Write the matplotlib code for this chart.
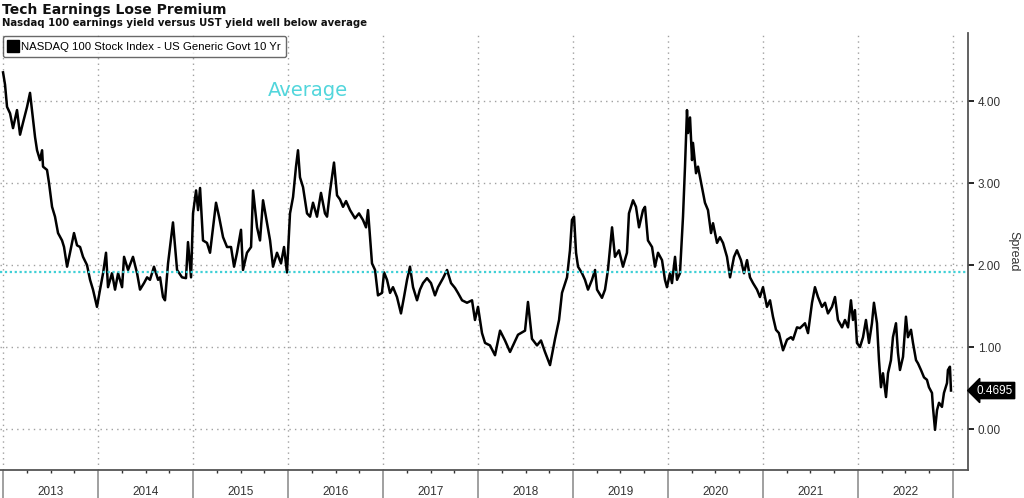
import matplotlib
matplotlib.use("Agg")
import matplotlib.pyplot as plt
import matplotlib.transforms as mtransforms
from matplotlib.lines import Line2D
import numpy as np

# decimal years, spread values
years = [
    2013.000, 2013.021, 2013.042, 2013.074, 2013.105, 2013.147, 2013.179, 2013.211, 2013.253, 2013.284,
    2013.305, 2013.337, 2013.358, 2013.389, 2013.411, 2013.421, 2013.463, 2013.484, 2013.516, 2013.547,
    2013.579, 2013.621, 2013.642, 2013.674, 2013.705, 2013.747, 2013.779, 2013.811, 2013.842, 2013.884,
    2013.916, 2013.947, 2013.989, 2014.021, 2014.053, 2014.084, 2014.105, 2014.147, 2014.179, 2014.211,
    2014.253, 2014.274, 2014.316, 2014.368, 2014.411, 2014.442, 2014.484, 2014.516, 2014.547, 2014.589,
    2014.632, 2014.653, 2014.684, 2014.705, 2014.737, 2014.789, 2014.832, 2014.884, 2014.926, 2014.947,
    2014.979, 2015.000, 2015.032, 2015.053, 2015.074, 2015.105, 2015.147, 2015.179, 2015.211, 2015.242,
    2015.274, 2015.316, 2015.358, 2015.400, 2015.432, 2015.463, 2015.505, 2015.526, 2015.568, 2015.611,
    2015.632, 2015.674, 2015.705, 2015.737, 2015.779, 2015.811, 2015.842, 2015.884, 2015.926, 2015.958,
    2015.989, 2016.021, 2016.053, 2016.084, 2016.105, 2016.126, 2016.158, 2016.200, 2016.232, 2016.263,
    2016.305, 2016.347, 2016.389, 2016.411, 2016.442, 2016.484, 2016.516, 2016.547, 2016.579, 2016.611,
    2016.653, 2016.705, 2016.747, 2016.789, 2016.821, 2016.842, 2016.863, 2016.884, 2016.916, 2016.947,
    2016.989, 2017.011, 2017.042, 2017.074, 2017.105, 2017.147, 2017.189, 2017.221, 2017.253, 2017.284,
    2017.316, 2017.358, 2017.389, 2017.421, 2017.463, 2017.505, 2017.547, 2017.579, 2017.632, 2017.674,
    2017.716, 2017.758, 2017.789, 2017.832, 2017.884, 2017.937, 2017.968, 2018.000, 2018.042, 2018.074,
    2018.126, 2018.179, 2018.232, 2018.284, 2018.337, 2018.421, 2018.495, 2018.526, 2018.568, 2018.621,
    2018.663, 2018.705, 2018.758, 2018.811, 2018.853, 2018.884, 2018.937, 2018.968, 2018.989, 2019.011,
    2019.032, 2019.053, 2019.095, 2019.126, 2019.158, 2019.200, 2019.232, 2019.253, 2019.305, 2019.337,
    2019.368, 2019.411, 2019.442, 2019.484, 2019.526, 2019.568, 2019.589, 2019.632, 2019.663, 2019.695,
    2019.737, 2019.758, 2019.789, 2019.832, 2019.863, 2019.895, 2019.937, 2019.968, 2019.989, 2020.021,
    2020.042, 2020.074, 2020.095, 2020.126, 2020.158, 2020.179, 2020.200, 2020.211, 2020.232, 2020.253,
    2020.263, 2020.295, 2020.316, 2020.358, 2020.389, 2020.421, 2020.453, 2020.474, 2020.516, 2020.547,
    2020.579, 2020.621, 2020.653, 2020.695, 2020.726, 2020.768, 2020.800, 2020.832, 2020.863, 2020.895,
    2020.937, 2020.968, 2021.000, 2021.042, 2021.074, 2021.105, 2021.137, 2021.168, 2021.211, 2021.253,
    2021.295, 2021.316, 2021.358, 2021.389, 2021.442, 2021.474, 2021.516, 2021.547, 2021.579, 2021.621,
    2021.653, 2021.684, 2021.726, 2021.758, 2021.789, 2021.832, 2021.863, 2021.895, 2021.926, 2021.947,
    2021.968, 2021.989, 2022.021, 2022.053, 2022.084, 2022.116, 2022.147, 2022.168, 2022.200, 2022.221,
    2022.242, 2022.263, 2022.295, 2022.316, 2022.347, 2022.368, 2022.400, 2022.421, 2022.442, 2022.474,
    2022.505, 2022.526, 2022.558, 2022.579, 2022.611, 2022.632, 2022.663, 2022.695, 2022.726, 2022.747,
    2022.779, 2022.789, 2022.811, 2022.832, 2022.853, 2022.884, 2022.905, 2022.937, 2022.947, 2022.968,
    2022.979,
]
spread = [
    4.35, 4.20, 3.93, 3.85, 3.67, 3.89, 3.59, 3.74, 3.93, 4.10,
    3.89, 3.56, 3.40, 3.28, 3.40, 3.20, 3.16, 3.00, 2.71, 2.59,
    2.39, 2.30, 2.22, 1.98, 2.15, 2.39, 2.24, 2.22, 2.10, 2.00,
    1.82, 1.70, 1.49, 1.70, 1.90, 2.15, 1.73, 1.90, 1.70, 1.90,
    1.73, 2.10, 1.94, 2.10, 1.90, 1.70, 1.78, 1.85, 1.82, 1.98,
    1.82, 1.85, 1.61, 1.57, 2.02, 2.52, 1.94, 1.85, 1.84, 2.28,
    1.85, 2.63, 2.91, 2.67, 2.94, 2.30, 2.27, 2.15, 2.46, 2.76,
    2.59, 2.34, 2.22, 2.22, 1.98, 2.15, 2.43, 1.94, 2.15, 2.22,
    2.91, 2.46, 2.30, 2.79, 2.51, 2.30, 1.98, 2.15, 2.02, 2.22,
    1.91, 2.63, 2.83, 3.20, 3.40, 3.07, 2.95, 2.63, 2.59, 2.76,
    2.59, 2.88, 2.63, 2.59, 2.90, 3.25, 2.85, 2.80, 2.71, 2.78,
    2.67, 2.57, 2.63, 2.55, 2.46, 2.67, 2.34, 2.02, 1.94, 1.63,
    1.66, 1.91, 1.82, 1.66, 1.73, 1.61, 1.41, 1.61, 1.82, 1.98,
    1.73, 1.57, 1.70, 1.78, 1.84, 1.78, 1.63, 1.73, 1.84, 1.94,
    1.78, 1.72, 1.66, 1.57, 1.54, 1.57, 1.33, 1.49, 1.17, 1.05,
    1.02, 0.90, 1.20, 1.08, 0.94, 1.15, 1.20, 1.55, 1.10, 1.02,
    1.08, 0.94, 0.78, 1.10, 1.33, 1.66, 1.85, 2.18, 2.55, 2.59,
    2.15, 1.98, 1.90, 1.82, 1.70, 1.82, 1.94, 1.70, 1.60, 1.70,
    1.94, 2.46, 2.10, 2.18, 1.98, 2.15, 2.63, 2.79, 2.71, 2.46,
    2.67, 2.71, 2.30, 2.22, 1.98, 2.15, 2.06, 1.82, 1.73, 1.90,
    1.78, 2.10, 1.82, 1.90, 2.59, 3.20, 3.89, 3.61, 3.80, 3.28,
    3.49, 3.12, 3.20, 2.95, 2.76, 2.67, 2.39, 2.51, 2.27, 2.34,
    2.27, 2.10, 1.85, 2.10, 2.18, 2.06, 1.90, 2.06, 1.85, 1.78,
    1.70, 1.61, 1.73, 1.49, 1.57, 1.37, 1.21, 1.17, 0.96, 1.09,
    1.12, 1.09, 1.24, 1.23, 1.29, 1.17, 1.54, 1.73, 1.61, 1.49,
    1.54, 1.41, 1.49, 1.61, 1.33, 1.24, 1.33, 1.24, 1.57, 1.33,
    1.45, 1.05, 1.00, 1.12, 1.33, 1.05, 1.29, 1.54, 1.29, 0.84,
    0.51, 0.68, 0.39, 0.68, 0.84, 1.12, 1.29, 0.93, 0.72, 0.88,
    1.37, 1.12, 1.21, 1.05, 0.84, 0.80, 0.72, 0.63, 0.60, 0.51,
    0.44, 0.27, -0.01, 0.23, 0.32, 0.27, 0.44, 0.56, 0.72, 0.76,
    0.4695,
]
year_labels = [str(y) for y in range(2013, 2023)]
average = 1.91
last_value = 0.4695
series_name = "NASDAQ 100 Stock Index - US Generic Govt 10 Yr"

small_font = ["Liberation Sans", "DejaVu Sans"]

fig = plt.figure(figsize=(10.24, 4.98), dpi=100)
ax = fig.add_axes([0.0, 0.0562, 0.9453, 0.8775])

ax.plot(years, spread, color="black", lw=1.8, solid_joinstyle="round")
ax.axhline(average, color="#3fd0d6", lw=1.6, ls=(0, (1, 1.2)))
ax.text(2015.79, 4.13, "Average", color="#52d6dc", fontsize=14, va="center", ha="left")

ax.set_xlim(2012.968, 2023.158)
ax.set_ylim(-0.5, 4.83)

# grid
ax.set_yticks([0, 1, 2, 3, 4])
ax.set_xticks(np.arange(2013, 2024))
ax.set_xticks(np.arange(2013, 2023.2, 0.25), minor=True)
ax.grid(True, which="major", color="#a0a0a0", ls=(0, (1, 3)), lw=1.0)

ax.yaxis.tick_right()
ax.set_yticklabels(["%.2f" % v for v in [0, 1, 2, 3, 4]], fontsize=8.5, color="#333333",
                   family=small_font)
ax.tick_params(axis="y", direction="out", length=4, width=1.2, color="black", pad=3)
ax.set_ylabel("Spread", rotation=270, fontsize=9, color="#333333", family=small_font,
              va="center")
ax.yaxis.set_label_coords(1.047, 0.5)

ax.set_xticklabels([])
ax.tick_params(axis="x", which="major", direction="out", length=21, width=1.2, color="#909090")
ax.tick_params(axis="x", which="minor", direction="out", length=2.5, width=1.0, color="#333333")
trans = mtransforms.blended_transform_factory(ax.transData, ax.transAxes)
for i, lab in enumerate(year_labels):
    ax.text(2013 + i + 0.5, -0.037, lab, transform=trans, ha="center", va="top",
            fontsize=8.5, color="#333333", family=small_font)

for s in ["top", "left"]:
    ax.spines[s].set_visible(False)
ax.spines["bottom"].set_color("#555555")
ax.spines["right"].set_color("#555555")
ax.spines["bottom"].set_linewidth(1.3)
ax.spines["right"].set_linewidth(1.3)

# last value tag
ax.annotate("%.4f" % last_value, xy=(1.0, last_value),
            xycoords=("axes fraction", "data"), xytext=(6, 0), textcoords="offset points",
            ha="left", va="center", fontsize=8.5, color="white", family=small_font,
            bbox=dict(boxstyle="larrow,pad=0.18", fc="black", ec="black"))

# legend
h = Line2D([], [], marker="s", color="black", ls="none", markersize=8)
leg = ax.legend([h], [series_name], loc="upper left", bbox_to_anchor=(0.0, 1.0),
                prop={"family": small_font, "size": 8.2}, frameon=True, fancybox=True,
                handlelength=0.8, handletextpad=0.3, borderpad=0.5, borderaxespad=0.25)
leg.get_frame().set_edgecolor("#444444")
leg.get_frame().set_linewidth(1.0)

fig.text(0.002, 0.979, "Tech Earnings Lose Premium", fontsize=10, fontweight="bold",
         va="center", ha="left", color="#111111")
fig.text(0.002, 0.953, "Nasdaq 100 earnings yield versus UST yield well below average",
         fontsize=7.3, fontweight="bold", va="center", ha="left", color="#111111")

fig.savefig("out.png", dpi=100)
